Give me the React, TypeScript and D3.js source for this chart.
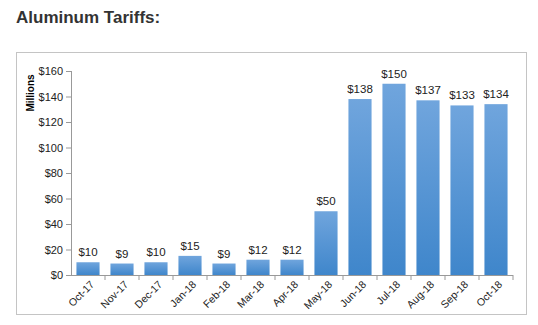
import React from "react";
import * as d3 from "d3";

const categories = ["Oct-17","Nov-17","Dec-17","Jan-18","Feb-18","Mar-18","Apr-18","May-18","Jun-18","Jul-18","Aug-18","Sep-18","Oct-18"];
const values = [10, 9, 10, 15, 9, 12, 12, 50, 138, 150, 137, 133, 134];
const yTicks = [0, 20, 40, 60, 80, 100, 120, 140, 160];

export default function App() {
  const W = 538, H = 325;
  const left = 71, right = 513, top = 71, bottom = 275;
  const x = d3.scaleBand<string>().domain(categories).range([left, right]).paddingInner(0.32).paddingOuter(0.16);
  const xb = d3.scaleBand<string>().domain(categories).range([left, right]);
  const y = d3.scaleLinear().domain([0, 160]).range([bottom, top]);
  const font = "'Liberation Sans', Arial, sans-serif";
  return (
    <svg width={W} height={H} style={{ position: "absolute", left: 0, top: 0, background: "#fff" }} fontFamily={font}>
      <defs>
        <linearGradient id="barg" x1="0" y1="0" x2="0" y2="1">
          <stop offset="0" stopColor="#70a5dd" />
          <stop offset="1" stopColor="#3f86cb" />
        </linearGradient>
      </defs>
      <text x={16} y={23} fontSize={17} fontWeight="bold" fill="#333">Aluminum Tariffs:</text>
      <rect x={16.5} y={52.5} width={510} height={262} fill="none" stroke="#c4c4c4" />
      <text transform={`translate(33.5,93) rotate(-90)`} textAnchor="middle" fontSize={10} fontWeight="bold" fill="#000">Millions</text>
      {yTicks.map(t => (
        <g key={t}>
          <line x1={left - 5} x2={left} y1={y(t) + 0.5} y2={y(t) + 0.5} stroke="#999" />
          <text x={63} y={y(t) + 4} textAnchor="end" fontSize={11} fill="#222">${t}</text>
        </g>
      ))}
      <line x1={left + 0.5} x2={left + 0.5} y1={top} y2={bottom} stroke="#999" />
      <line x1={left} x2={right} y1={bottom + 0.5} y2={bottom + 0.5} stroke="#999" />
      {categories.map((c, i) => (
        <line key={"t" + i} x1={(xb(c) as number) + xb.bandwidth()} x2={(xb(c) as number) + xb.bandwidth()} y1={bottom} y2={bottom + 5} stroke="#999" />
      ))}
      {categories.map((c, i) => {
        const bx = x(c) as number;
        const v = values[i];
        return (
          <g key={c}>
            <rect x={bx} y={y(v)} width={x.bandwidth()} height={bottom - y(v)} fill="url(#barg)" />
            <text x={bx + x.bandwidth() / 2} y={y(v) - 6} textAnchor="middle" fontSize={11.5} fill="#222">${v}</text>
            <text transform={`translate(${bx + x.bandwidth() / 2 + 7},${bottom + 10}) rotate(-45)`} textAnchor="end" fontSize={10.5} fill="#222">{c}</text>
          </g>
        );
      })}
    </svg>
  );
}
